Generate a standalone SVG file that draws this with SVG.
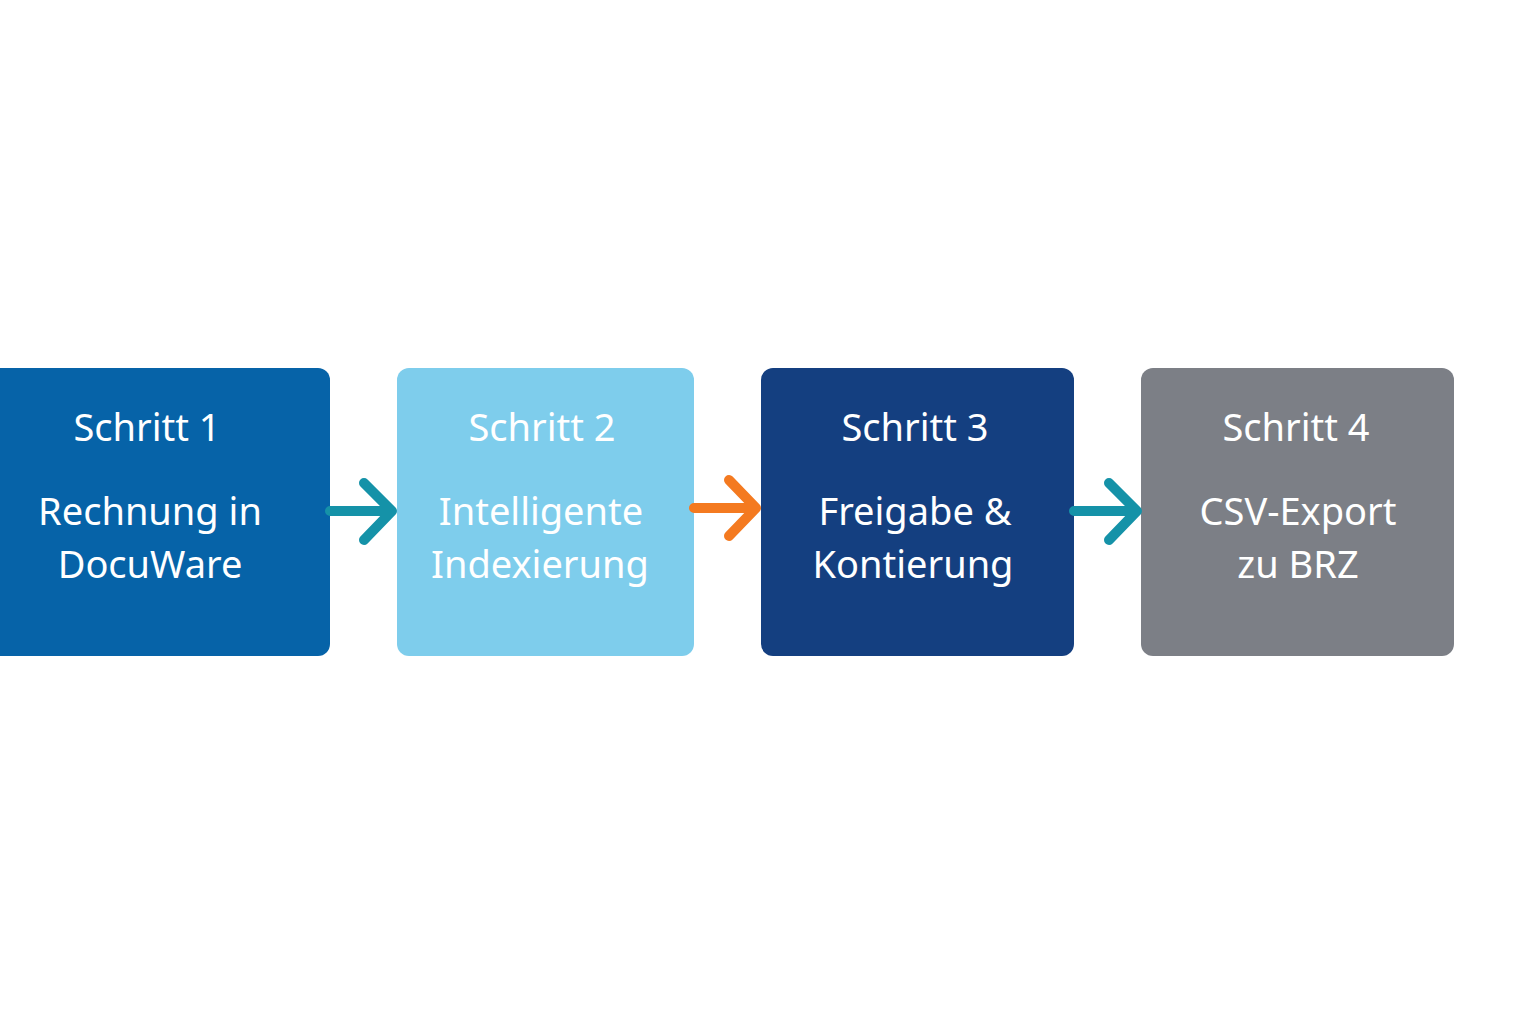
<svg xmlns="http://www.w3.org/2000/svg" width="1536" height="1024" viewBox="0 0 1536 1024">
<style>
text{font-family:"Noto Sans","Open Sans",sans-serif;font-size:38px;fill:#fff;text-anchor:middle}
.c{fill:none;stroke-width:10;stroke-linecap:round;stroke-linejoin:round}
</style>
<rect width="1536" height="1024" fill="#fff"/>
<g id="n1"><rect x="-20" y="368" width="350" height="288" rx="12" fill="#0663a8"/><text x="147" y="441">Schritt 1</text><text x="150" y="525">Rechnung in</text><text x="150" y="578">DocuWare</text></g>
<g id="n2"><rect x="397" y="368" width="297" height="288" rx="12" fill="#7ecdec"/><text x="542" y="441">Schritt 2</text><text x="541" y="525">Intelligente</text><text x="540" y="578">Indexierung</text></g>
<g id="n3"><rect x="761" y="368" width="313" height="288" rx="12" fill="#143f80"/><text x="915" y="441">Schritt 3</text><text x="915" y="525">Freigabe &amp;</text><text x="913" y="578">Kontierung</text></g>
<g id="n4"><rect x="1141" y="368" width="313" height="288" rx="12" fill="#7c7f86"/><text x="1296" y="441">Schritt 4</text><text x="1298" y="525">CSV-Export</text><text x="1298" y="578">zu BRZ</text></g>
<g id="connectors">
<path class="c" stroke="#1592a8" d="M330 511H388M364 483L392 511L364 540"/>
<path class="c" stroke="#f47a20" d="M694 508H752M729 480L756 508L729 536"/>
<path class="c" stroke="#1592a8" d="M1074 511H1133M1109 483L1137 511L1109 540"/>
</g>
</svg>
